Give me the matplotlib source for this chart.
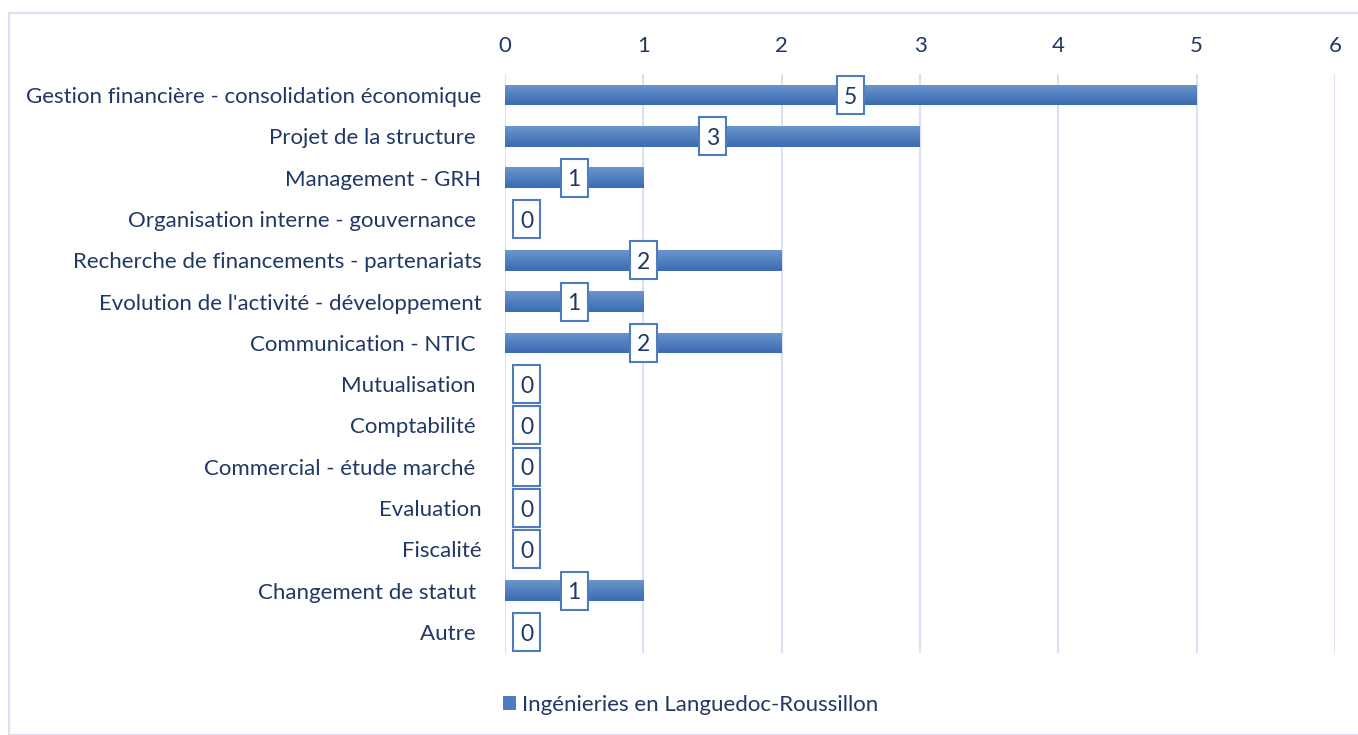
import numpy as np
import matplotlib
matplotlib.use("Agg")
import matplotlib.pyplot as plt
from matplotlib.patches import Rectangle, Patch
from matplotlib.path import Path
from matplotlib.colors import LinearSegmentedColormap

categories = [
    "Gestion financière - consolidation économique",
    "Projet de la structure ",
    "Management - GRH",
    "Organisation interne - gouvernance ",
    "Recherche de financements - partenariats",
    "Evolution de l'activité - développement",
    "Communication - NTIC ",
    "Mutualisation ",
    "Comptabilité ",
    "Commercial - étude marché ",
    "Evaluation",
    "Fiscalité",
    "Changement de statut ",
    "Autre ",
]
values = [5, 3, 1, 0, 2, 1, 2, 0, 0, 0, 0, 0, 1, 0]
series_name = "Ingénieries en Languedoc-Roussillon"
xticks = [0, 1, 2, 3, 4, 5, 6]

plt.rcParams['font.family'] = ['Lato', 'DejaVu Sans']
TXT = "#203864"
GRID = "#D9E2F3"
W, H = 1358, 735
FS = 16
fig = plt.figure(figsize=(W / 100, H / 100), dpi=100)

# outer frame
fig.patches.append(Rectangle((9 / W, 0), 1.0, 1 - 13 / H, transform=fig.transFigure,
                             fill=False, edgecolor=GRID, linewidth=1.5))

ax = fig.add_axes([505 / W, 1 - 652.6 / H, (1335 - 505) / W, (652.6 - 74.4) / H])
y = np.arange(len(categories))
bars = ax.barh(y, values, height=0.5, color="#4F7BC0", zorder=2)
ax.set_xlim(0, 6)
ax.set_ylim(len(categories) - 0.5, -0.5)

# gradient fill
grad = np.linspace(0, 1, 64).reshape(-1, 1)
cmap = LinearSegmentedColormap.from_list("g", ["#6C95CD", "#3A6BB1"])
for b, v in zip(bars, values):
    if v <= 0:
        continue
    x0, yb, w, h = b.get_x(), b.get_y(), b.get_width(), b.get_height()
    im = ax.imshow(grad, extent=(x0, x0 + w, yb + h, yb), aspect='auto', cmap=cmap,
                   zorder=3, interpolation='bicubic')
    im.set_clip_path(b)

ax.set_xticks(xticks)
ax.xaxis.tick_top()
ax.tick_params(axis='x', length=0, pad=13, labelsize=FS, labelcolor=TXT)
ax.set_yticks(y)
ax.set_yticklabels(categories)
ax.tick_params(axis='y', length=0, pad=17, labelsize=FS, labelcolor=TXT)
ax.grid(axis='x', color=GRID, linewidth=1.5, zorder=1)
ax.set_axisbelow(True)
for s in ax.spines.values():
    s.set_visible(False)

SHIFT_PT = 1.5  # text moved down, box moved back up by the same amount


def tallbox(x0, y0, width, height, mutation_size):
    px = 0.3 * mutation_size
    py = 0.37 * mutation_size
    d = SHIFT_PT * fig.dpi / 72.0
    xa, xb = x0 - px, x0 + width + px
    ya, yb = y0 - py + d, y0 + height + py + d
    return Path([(xa, ya), (xb, ya), (xb, yb), (xa, yb), (xa, ya)], closed=True)


for yi, v in zip(y, values):
    off = 15.5 if v == 0 else 0
    ax.annotate(str(v), xy=(v / 2, yi), xytext=(off, -SHIFT_PT), textcoords='offset points',
                ha='center', va='center', fontsize=16.5, color=TXT, zorder=5,
                bbox=dict(boxstyle=tallbox, facecolor='white',
                          edgecolor='#4F7BC0', linewidth=1.5))

handle = Patch(facecolor="#4F7BC0", edgecolor='none')
fig.legend([handle], [series_name], loc='center', bbox_to_anchor=(691 / W, 1 - 705 / H),
           frameon=False, fontsize=FS, labelcolor=TXT, handlelength=0.55, handleheight=0.55,
           handletextpad=0.3)

fig.savefig("out.png", dpi=100)
